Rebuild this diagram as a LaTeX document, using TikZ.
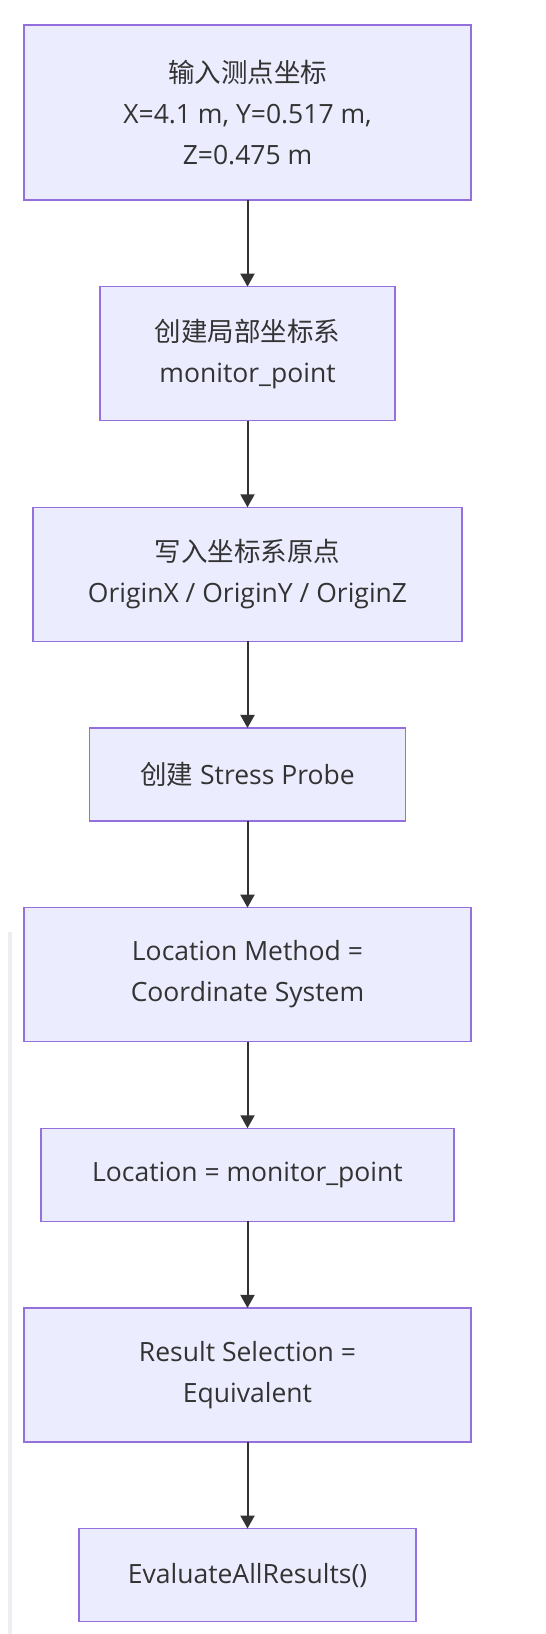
\documentclass[tikz,border=0pt]{standalone}
\usepackage{fontspec}
\setmainfont{Open Sans}
\newfontfamily\cjk{Noto Sans CJK SC}
\usetikzlibrary{positioning,arrows.meta}

\definecolor{boxfill}{HTML}{ECECFF}
\definecolor{boxline}{HTML}{9370DB}
\definecolor{darkline}{HTML}{333333}
\definecolor{sidebar}{HTML}{EEEEF2}

\begin{document}
\begin{tikzpicture}[x=1pt, y=1pt, node distance=86.65pt,
    stepbox/.style={draw=boxline, line width=1.3pt, fill=boxfill, text=darkline,
        inner sep=0pt, outer sep=0pt, align=center, font=\fontsize{26.5}{41}\selectfont},
    tall/.style={stepbox, minimum height=134pt},
    flat/.style={stepbox, minimum height=93pt},
    flow/.style={-{Triangle[length=13pt,width=14pt]}, line width=2pt, draw=darkline}]
    \useasboundingbox (0,0) rectangle (546,-1634);
    % light bar on the left
    \draw[sidebar, line width=4pt] (10,-931.7) -- (10,-1634);

    \node [stepbox, minimum width=447pt, minimum height=175pt] (input) at (247.5,-112.5)
        {{\cjk 输入测点坐标}\\X=4.1 m, Y=0.517 m,\\Z=0.475 m};
    \node [tall, minimum width=295pt, below=of input] (lcs)
        {{\cjk 创建局部坐标系}\\monitor\_point};
    \node [tall, minimum width=429pt, below=of lcs] (origin)
        {{\cjk 写入坐标系原点}\\OriginX / OriginY / OriginZ};
    \node [flat, minimum width=316pt, below=of origin] (probe)
        {{\cjk 创建} Stress Probe};
    \node [tall, minimum width=447pt, below=of probe] (method)
        {Location Method =\\Coordinate System};
    \node [flat, minimum width=413pt, below=of method] (location)
        {Location = monitor\_point};
    \node [tall, minimum width=447pt, below=of location] (result)
        {Result Selection =\\Equivalent};
    \node [flat, minimum width=337pt, below=of result] (evaluate)
        {EvaluateAllResults()};

    \draw[flow] (input) -- (lcs);
    \draw[flow] (lcs) -- (origin);
    \draw[flow] (origin) -- (probe);
    \draw[flow] (probe) -- (method);
    \draw[flow] (method) -- (location);
    \draw[flow] (location) -- (result);
    \draw[flow] (result) -- (evaluate);
\end{tikzpicture}
\end{document}
